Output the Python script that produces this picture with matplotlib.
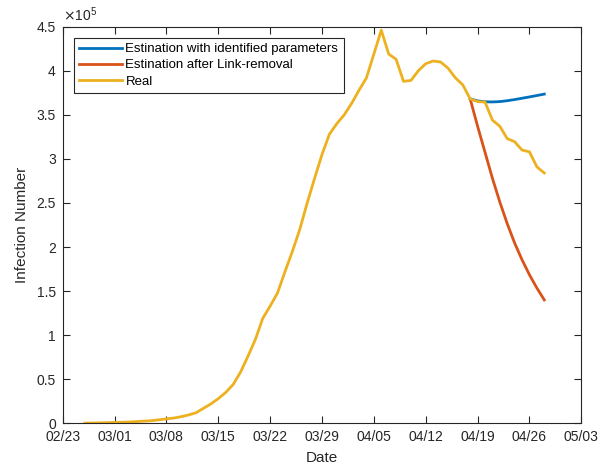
import numpy as np
import matplotlib
matplotlib.use("Agg")
import matplotlib.pyplot as plt
import matplotlib.dates as mdates

plt.rcParams['font.family'] = ['Liberation Sans', 'DejaVu Sans']

start_real = np.datetime64('2020-02-26')
real_1e5 = [0.002, 0.003, 0.005, 0.007, 0.010, 0.012, 0.015, 0.020, 0.025, 0.030,
            0.040, 0.050, 0.060, 0.075, 0.095, 0.120, 0.170, 0.220, 0.280, 0.350,
            0.440, 0.580, 0.760, 0.950, 1.190, 1.330, 1.480, 1.720, 1.950, 2.200,
            2.500, 2.780, 3.050, 3.280, 3.400, 3.500, 3.630, 3.780, 3.920, 4.190,
            4.460, 4.190, 4.130, 3.880, 3.890, 4.000, 4.080, 4.110, 4.100, 4.030,
            3.920, 3.840, 3.680, 3.650, 3.645, 3.440, 3.370, 3.230, 3.195, 3.100,
            3.080, 2.910, 2.840]

start_est = np.datetime64('2020-04-18')
est_identified_1e5 = [3.680, 3.658, 3.648, 3.646, 3.650, 3.660, 3.673, 3.688, 3.703, 3.719, 3.735]
est_removal_1e5 = [3.680, 3.370, 3.075, 2.780, 2.510, 2.265, 2.045, 1.855, 1.685, 1.535, 1.400]

labels = ['Estination with identified parameters', 'Estination after Link-removal', 'Real']
colors = ['#0072BD', '#D95319', '#EDB120']

real_dates = start_real + np.arange(len(real_1e5))
est_dates = start_est + np.arange(len(est_identified_1e5))

fig = plt.figure(figsize=(6.07, 4.68), dpi=100)
ax = fig.add_axes([0.1033, 0.0955, 0.8544, 0.8475])

ax.plot(est_dates, est_identified_1e5, color=colors[0], lw=2.0, label=labels[0])
ax.plot(est_dates, est_removal_1e5, color=colors[1], lw=2.0, label=labels[1])
ax.plot(real_dates, real_1e5, color=colors[2], lw=2.0, label=labels[2])

ax.set_xlim(np.datetime64('2020-02-23'), np.datetime64('2020-05-03'))
ax.set_ylim(0, 4.5)
ticks = np.datetime64('2020-02-23') + np.arange(0, 71, 7)
ax.set_xticks(ticks)
ax.xaxis.set_major_formatter(mdates.DateFormatter('%m/%d'))
ax.set_yticks(np.arange(0, 4.51, 0.5))
ax.set_yticklabels(['0', '0.5', '1', '1.5', '2', '2.5', '3', '3.5', '4', '4.5'])

axc = '#262626'
for s in ax.spines.values():
    s.set_color(axc)
    s.set_linewidth(0.8)
ax.tick_params(direction='in', top=True, right=True, length=5, width=0.8,
               colors=axc, labelsize=10, pad=5)

ax.set_xlabel('Date', fontsize=11, color=axc, labelpad=5)
ax.set_ylabel('Infection Number', fontsize=11, color=axc, labelpad=5)
ax.text(0.0, 1.008, r'$\times\mathregular{10^{5}}$', transform=ax.transAxes,
        fontsize=10, color=axc, ha='left', va='bottom')

leg = ax.legend(loc='upper left', bbox_to_anchor=(0.0218, 0.9723), borderaxespad=0,
                fancybox=False, framealpha=1, edgecolor=axc, fontsize=9.5,
                handlelength=3.2, handletextpad=0.3, labelspacing=0.3,
                borderpad=0.4)
leg.get_frame().set_linewidth(0.8)

fig.savefig('out.png', dpi=100)
